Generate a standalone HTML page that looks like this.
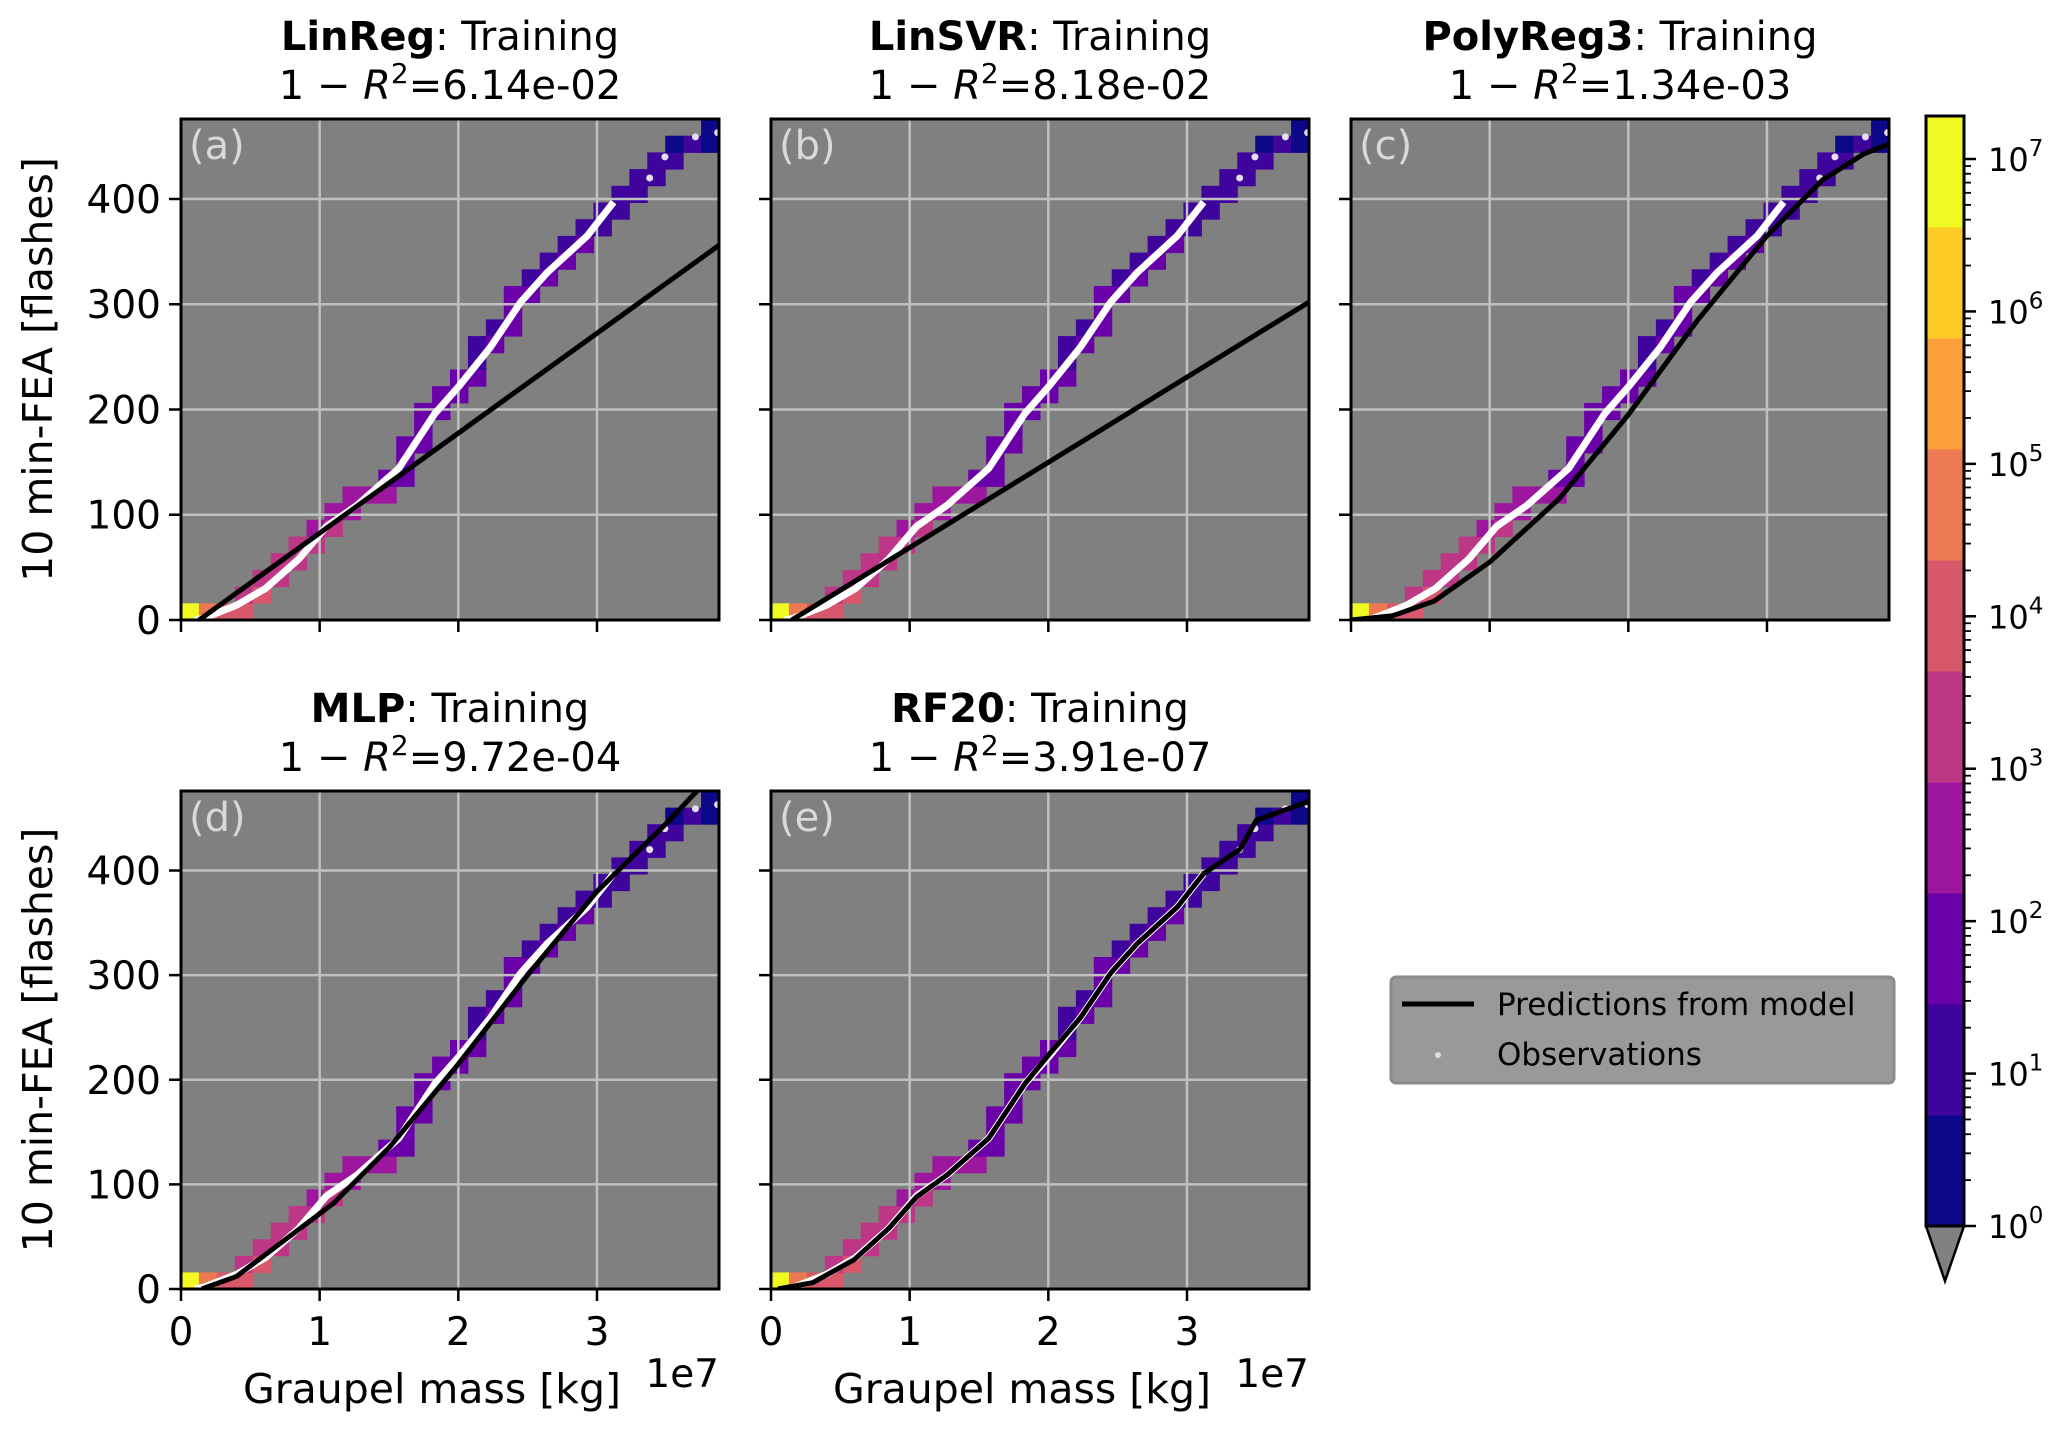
<!DOCTYPE html>
<html><head><meta charset="utf-8">
<style>
html,body{margin:0;padding:0;background:#fff;}
svg text{font-family:"DejaVu Sans","Liberation Sans",sans-serif;}
</style></head>
<body>
<svg id="fig" xmlns="http://www.w3.org/2000/svg" width="2067" height="1433" viewBox="0 0 2067 1433">
<rect width="2067" height="1433" fill="#fff"/>
</svg>
<script>
// ---------- data ----------
const obsX = [0.10,0.17,0.40,0.61,0.85,1.05,1.27,1.57,1.83,2.01,2.23,2.45,2.64,2.93,3.12,3.38,3.49,3.71,3.87];
const obsY = [0,2,14,30,58,89,109,144,196,223,259,302,330,365,397,420,440,459,463];
const linregX = [0.13,3.88]; const linregY = [0,356];
const linsvrX = [0.15,3.88]; const linsvrY = [0,302];
const polyX = [0,0.3,0.6,1.0,1.5,2.0,2.5,3.0,3.4,3.7,3.88];
const polyY = [0,4,18,55,115,195,285,365,418,443,452];
const mlpX = [0.15,0.4,0.7,1.1,1.5,2.0,2.5,3.0,3.5,3.75];
const mlpY = [0,12,42,82,135,215,300,380,445,480];
const rfX = [0.05,0.3,0.6,0.85,1.05,1.27,1.57,1.83,2.01,2.23,2.45,2.64,2.93,3.12,3.38,3.5,3.71,3.88];
const rfY = [0,6,28,58,88,109,144,196,225,259,302,330,365,397,420,448,458,466];
// heatmap: log10 count per x-column (30 bins)
const colLog = [6.9,4.6,3.9,3.7,3.5,3.3,3.1,2.9,2.8,2.5,2.3,2.2,2.0,1.9,1.8,1.8,1.6,1.5,1.7,1.6,1.5,1.4,1.4,1.3,1.2,1.1,1.0,0.9,0.7,0.4];
const titlesBold = ["LinReg","LinSVR","PolyReg3","MLP","RF20"];
const scores = ["6.14e-02","8.18e-02","1.34e-03","9.72e-04","3.91e-07"];
const letters = ["(a)","(b)","(c)","(d)","(e)"];
const yTicks = [0,100,200,300,400];
const xTicks = [0,1,2,3];
const cbColors = ["#0d0887","#3e049c","#6a00a8","#9c179e","#bd3786","#d8576b","#ed7953","#fb9f3a","#fdca26","#f0f921"];
const cbDecades = [0,1,2,3,4,5,6,7];

const NS="http://www.w3.org/2000/svg";
const svg=document.getElementById('fig');
function mk(tag,attrs,parent){const e=document.createElementNS(NS,tag);for(const k in attrs)e.setAttribute(k,attrs[k]);(parent||svg).appendChild(e);return e;}

const XMAX=3.88, YMAX=476, NB=30;
const panels=[
 {l:181,r:719,t:119,b:620,lines:[linregX,linregY],ylab:true,xlab:false},
 {l:771,r:1309,t:119,b:620,lines:[linsvrX,linsvrY],ylab:false,xlab:false},
 {l:1351,r:1889,t:119,b:620,lines:[polyX,polyY],ylab:false,xlab:false},
 {l:181,r:719,t:791,b:1289,lines:[mlpX,mlpY],ylab:true,xlab:true},
 {l:771,r:1309,t:791,b:1289,lines:[rfX,rfY],ylab:false,xlab:true}
];
function interp(xs,ys,x){if(x<=xs[0])return ys[0];for(let i=1;i<xs.length;i++){if(x<=xs[i]){const f=(x-xs[i-1])/(xs[i]-xs[i-1]);return ys[i-1]+f*(ys[i]-ys[i-1]);}}return ys[ys.length-1];}
function cbColor(lg){let i=Math.floor(lg/0.7);if(i<0)i=0;if(i>9)i=9;return cbColors[i];}

panels.forEach((p,pi)=>{
 const sx=v=>p.l+v/XMAX*(p.r-p.l);
 const sy=v=>p.b-v/YMAX*(p.b-p.t);
 const g=mk('g',{});
 
 
 const bg=mk('rect',{x:p.l,y:p.t,width:p.r-p.l,height:p.b-p.t,fill:'#808080'},g);
 
 
 const bw=XMAX/NB, bh=YMAX/NB;
 for(let c=0;c<NB;c++){
  const x0=c*bw,x1=(c+1)*bw;
  const ya=interp(obsX,obsY,x0), yb=interp(obsX,obsY,x1);
  const r0=Math.floor(Math.min(ya,yb)/bh), r1=Math.min(NB-1,Math.floor(Math.max(ya,yb)/bh));
  for(let r=r0;r<=r1;r++){
   const cell=mk('rect',{x:sx(x0),y:sy((r+1)*bh),width:sx(x1)-sx(x0)+0.5,height:sy(r*bh)-sy((r+1)*bh)+0.5,fill:cbColor(colLog[c]-(r>r0?0.3:0))},g);
   
   
  }
 }
 xTicks.forEach(t=>{if(t>0){const l=mk('line',{x1:sx(t),x2:sx(t),y1:p.t,y2:p.b,stroke:'#c0c0c0','stroke-width':2.5},g);}});
 yTicks.forEach(t=>{if(t>0){const l=mk('line',{x1:p.l,x2:p.r,y1:sy(t),y2:sy(t),stroke:'#c0c0c0','stroke-width':2.5},g);}});
 const cut=3.2;
 let pts=[];obsX.forEach((x,i)=>{if(x<=cut)pts.push(sx(x)+','+sy(obsY[i]));});
 const ob=mk('polyline',{points:pts.join(' '),fill:'none',stroke:'#fff','stroke-width':7,'stroke-linejoin':'round'},g);
 
 
 obsX.forEach((x,i)=>{if(x>cut){const d=mk('circle',{cx:sx(x),cy:sy(obsY[i]),r:3.5,fill:'#e8dcf0'},g);}});
 const [lx,ly]=p.lines;
 const cp=mk('clipPath',{id:'cp'+pi},g);mk('rect',{x:p.l,y:p.t,width:p.r-p.l,height:p.b-p.t},cp);
 const pl=mk('polyline',{points:lx.map((x,i)=>sx(x)+','+sy(ly[i])).join(' '),fill:'none',stroke:'#000','stroke-width':5,'stroke-linejoin':'round','clip-path':'url(#cp'+pi+')'},g);
 
 
 const fr=mk('rect',{x:p.l,y:p.t,width:p.r-p.l,height:p.b-p.t,fill:'none',stroke:'#000','stroke-width':3},g);
 
 
 const lt=mk('text',{x:p.l+8,y:p.t+40,'font-size':40,fill:'#d9d9d9'},g);lt.textContent=letters[pi];
 
 
 yTicks.forEach(t=>{
  mk('line',{x1:p.l-12,x2:p.l,y1:sy(t),y2:sy(t),stroke:'#000','stroke-width':2.5},g);
  if(p.ylab){const tx=mk('text',{x:p.l-20,y:sy(t)+14,'font-size':39,'text-anchor':'end'},g);tx.textContent=t;
   }
 });
 xTicks.forEach(t=>{
  mk('line',{x1:sx(t),x2:sx(t),y1:p.b,y2:p.b+12,stroke:'#000','stroke-width':2.5},g);
  if(p.xlab){const tx=mk('text',{x:sx(t),y:p.b+56,'font-size':39,'text-anchor':'middle'},g);tx.textContent=t;
   }
 });
 const cx=(p.l+p.r)/2;
 const t1=mk('text',{x:cx,y:p.t-69,'font-size':40,'text-anchor':'middle'},g);
 t1.innerHTML='<tspan font-weight="bold">'+titlesBold[pi]+'</tspan>: Training';
 
 const t2=mk('text',{x:cx,y:p.t-20,'font-size':40,'text-anchor':'middle'},g);
 t2.innerHTML='1 − <tspan font-style="italic">R</tspan><tspan dy="-16" font-size="28">2</tspan><tspan dy="16">='+scores[pi]+'</tspan>';
 
 if(p.ylab){const yl=mk('text',{x:0,y:0,'font-size':41,'text-anchor':'middle',transform:'translate(52,'+((p.t+p.b)/2)+') rotate(-90)'},g);yl.textContent='10 min-FEA [flashes]';
  }
 if(p.xlab){const xl=mk('text',{x:cx-18,y:p.b+114,'font-size':41,'text-anchor':'middle'},g);xl.textContent='Graupel mass [kg]';
  
  const ex=mk('text',{x:p.r,y:p.b+98,'font-size':39,'text-anchor':'end'},g);ex.textContent='1e7';
  }
});

// legend
const lg=mk('g',{});


mk('rect',{x:1391,y:977,width:503,height:106,rx:5,fill:'#999',stroke:'#8a8a8a','stroke-width':3},lg);
mk('line',{x1:1402,x2:1474,y1:1004,y2:1004,stroke:'#000','stroke-width':5},lg);
mk('circle',{cx:1438,cy:1055,r:3,fill:'#ddd'},lg);
const le1=mk('text',{x:1497,y:1015,'font-size':31},lg);le1.textContent='Predictions from model';

const le2=mk('text',{x:1497,y:1065,'font-size':31},lg);le2.textContent='Observations';


// colorbar
const cb=mk('g',{});


const cL=1926,cR=1964,cT=116,cB=1226;
const segH=(cB-cT)/cbColors.length;
cbColors.forEach((c,i)=>{const r=mk('rect',{x:cL,y:cB-(i+1)*segH,width:cR-cL,height:segH+0.5,fill:c},cb);});
mk('polygon',{points:cL+','+cB+' '+cR+','+cB+' '+((cL+cR)/2)+','+1281,fill:'#808080',stroke:'#000','stroke-width':2.5},cb);
mk('rect',{x:cL,y:cT,width:cR-cL,height:cB-cT,fill:'none',stroke:'#000','stroke-width':3},cb);
const c7=159;
const cy=v=>cB-v/7*(cB-c7);
cbDecades.forEach(d=>{
 mk('line',{x1:cR,x2:cR+12,y1:cy(d),y2:cy(d),stroke:'#000','stroke-width':2.5},cb);
 for(let m=2;m<10;m++){const yy=cy(d+Math.log10(m));if(yy>cT)mk('line',{x1:cR,x2:cR+7,y1:yy,y2:yy,stroke:'#000','stroke-width':1.8},cb);}
 const t=mk('text',{x:cR+24,y:cy(d)+12,'font-size':32},cb);
 t.innerHTML='10<tspan dy="-15" font-size="23">'+d+'</tspan>';
 
});
</script>
</body></html>
